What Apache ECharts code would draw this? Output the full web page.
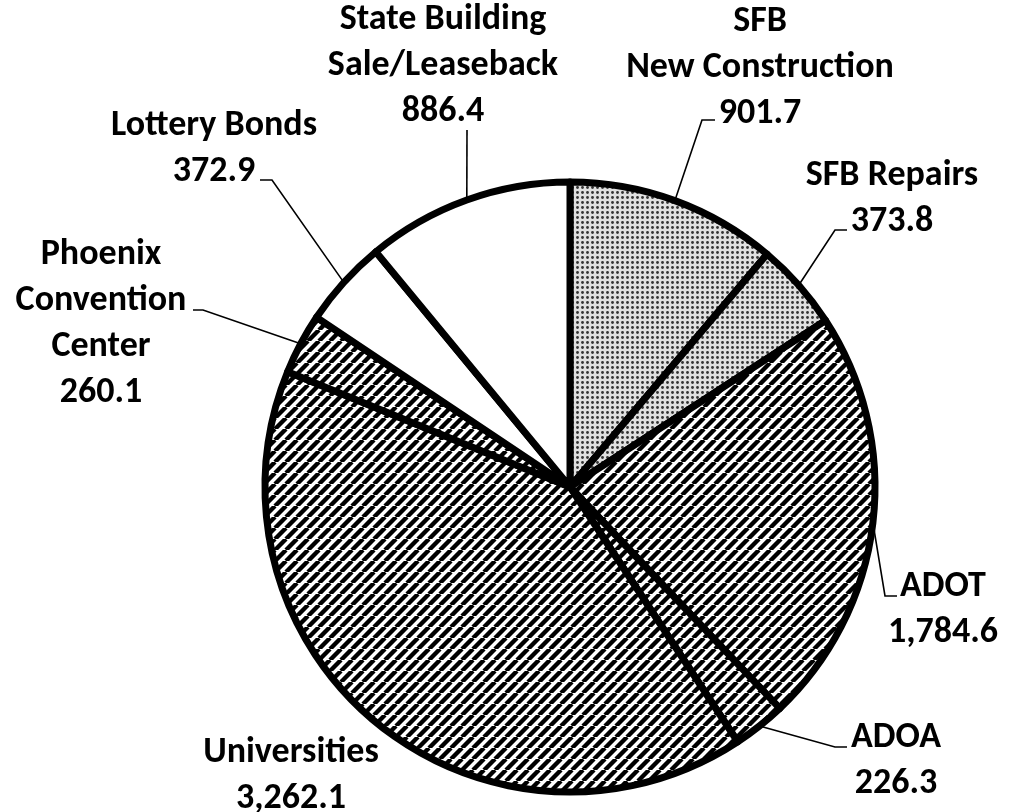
<!DOCTYPE html>
<html>
<head>
<meta charset="utf-8">
<script src="https://cdn.jsdelivr.net/npm/echarts@6/dist/echarts.min.js"></script>
<style>
  html, body { margin: 0; background: #fff; }
  #main { width: 1015px; height: 812px; }
</style>
</head>
<body>
<div id="main"></div>
<script>
// data
const categories = ['SFB\nNew Construction', 'SFB Repairs', 'ADOT', 'ADOA', 'Universities',
    'Phoenix\nConvention\nCenter', 'Lottery Bonds', 'State Building\nSale/Leaseback'];
const values = [901.7, 373.8, 1784.6, 226.3, 3262.1, 260.1, 372.9, 886.4];

// fill patterns
function dotPattern() {
    const c = document.createElement('canvas');
    c.width = 5; c.height = 5;
    const ctx = c.getContext('2d');
    ctx.fillStyle = '#e0e0e0';
    ctx.fillRect(0, 0, 5, 5);
    ctx.fillStyle = '#333';
    ctx.beginPath();
    ctx.arc(2.5, 2.5, 1.4, 0, Math.PI * 2);
    ctx.fill();
    return c;
}
function hatchPattern() {
    const s = 11;
    const c = document.createElement('canvas');
    c.width = s; c.height = s;
    const ctx = c.getContext('2d');
    ctx.fillStyle = '#fff';
    ctx.fillRect(0, 0, s, s);
    ctx.strokeStyle = '#000';
    ctx.lineWidth = 4.4;
    ctx.beginPath();
    for (let k = -1; k <= 1; k++) {
        ctx.moveTo(k * s, s);
        ctx.lineTo(k * s + s, 0);
    }
    ctx.stroke();
    return c;
}
const dots = { image: dotPattern(), repeat: 'repeat' };
const hatch = { image: hatchPattern(), repeat: 'repeat' };
const sliceFill = [dots, dots, hatch, hatch, hatch, hatch, '#fff', '#fff'];

// where each label sits and where its leader line hooks in
const labelSpots = [
    { x: 760, y: 68, hook: [[702, 120], [715, 120]] },
    { x: 892, y: 199, hook: [[835, 230], [847, 230]] },
    { x: 943, y: 610, hook: [[885, 596], [897, 596]] },
    { x: 896, y: 761, hook: [[835, 747], [847, 747]] },
    { x: 291, y: 776, hook: null },
    { x: 101, y: 324, hook: [[203, 310], [193, 310]] },
    { x: 214, y: 149, hook: [[272, 180], [260, 180]] },
    { x: 443, y: 66, hook: [[467, 130], [467, 130]] }
];

const fmt = v => v.toLocaleString('en-US', { minimumFractionDigits: 1, maximumFractionDigits: 1 });

const chart = echarts.init(document.getElementById('main'));
chart.setOption({
    animation: false,
    series: [{
        type: 'pie',
        center: [570, 487],
        radius: 305,
        startAngle: 90,
        clockwise: true,
        avoidLabelOverlap: false,
        emphasis: { disabled: true },
        itemStyle: { borderColor: '#000', borderWidth: 7 },
        label: {
            show: true,
            position: 'outside',
            color: '#000',
            fontFamily: 'Carlito, Lato, "Open Sans", sans-serif',
            fontWeight: 'bold',
            fontSize: 36,
            lineHeight: 46,
            align: 'center',
            formatter: p => p.name + '\n' + fmt(p.value)
        },
        labelLine: { show: true, lineStyle: { color: '#000', width: 1.6 } },
        labelLayout: function (params) {
            const s = labelSpots[params.dataIndex];
            const out = { x: s.x, y: s.y, align: 'center', verticalAlign: 'middle' };
            if (s.hook && params.labelLinePoints) {
                out.labelLinePoints = [params.labelLinePoints[0], s.hook[0], s.hook[1]];
            }
            return out;
        },
        data: categories.map((name, i) => ({
            name: name,
            value: values[i],
            itemStyle: { color: sliceFill[i] },
            labelLine: { show: labelSpots[i].hook !== null }
        }))
    }]
});
</script>
</body>
</html>
